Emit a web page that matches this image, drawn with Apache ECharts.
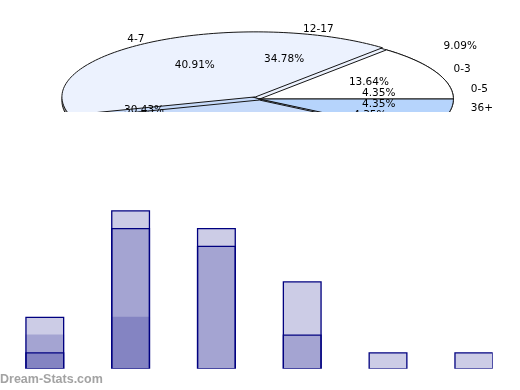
<!DOCTYPE html>
<html><head><meta charset="utf-8">
<script src="https://cdn.jsdelivr.net/npm/echarts@6/dist/echarts.min.js"></script>
<style>html,body{margin:0;padding:0;background:#fff}#c{width:520px;height:390px}</style>
</head><body><div id="c"></div>
<script>
// ---- data ----
const pieANames = ['0-3', '4-7', '8-11', '12-17'];
const pieAValues = [3, 9, 8, 2];
const pieBNames = ['0-5', '12-17', '6-11', '18-24', '25-35', '36+'];
const pieBValues = [1, 8, 7, 5, 1, 1];
const barCategories = ['0-3', '4-7', '8-11', '12-17', '18-35', '36+'];
const barSeriesA = [3, 9, 8, 2, 0, 0];
const barSeriesB = [1, 8, 7, 5, 1, 1];
const barSeriesC = [2, 3, 0, 0, 0, 0];

// ---- style / layout ----
const palette = ['#ffffff', '#ecf2fe', '#c6dafa', '#b6d4fc', '#a9c9f4', '#d4d4d4'];
const explodeA = [0, 0.039, 0.016, 0];
const depth = 0.0615;
const pctR = 0.62, nameR = 1.1;
const pctOverrideA = {3: [1.035, 0.815]};
const labelFont = '10.5px "DejaVu Sans"';

function slices(values, explode, colorOffset) {
  const tot = values.reduce((a, b) => a + b, 0);
  let acc = 0;
  return values.map((v, i) => {
    const s = acc / tot * 360; acc += v;
    const e = acc / tot * 360;
    return {s, e, ci: i + colorOffset, explode: explode ? explode[i] : 0, dy: 0, v, tot};
  });
}
const sA = slices(pieAValues, explodeA, 0);
const sB = slices(pieBValues, null, 0);
const walls = sA.filter(o => Math.cos((o.s + o.e) / 360 * Math.PI) < 0)
  .map(o => Object.assign({}, o, {dy: -depth, wall: true}));
const sliceItems = walls.concat(sB).concat(sA);

function renderSlice(params, api) {
  const o = sliceItems[params.dataIndex];
  const mid = (o.s + o.e) / 2 * Math.PI / 180;
  const cx = o.explode * Math.cos(mid), cy = o.explode * Math.sin(mid) + o.dy;
  const pts = [api.coord([cx, cy])];
  const n = Math.max(2, Math.ceil((o.e - o.s) / 1.5));
  for (let k = 0; k <= n; k++) {
    const t = (o.s + (o.e - o.s) * k / n) * Math.PI / 180;
    pts.push(api.coord([cx + Math.cos(t), cy + Math.sin(t)]));
  }
  return {type: 'polygon', shape: {points: pts},
    style: {fill: o.wall ? '#8e8e8e' : palette[o.ci], stroke: '#161616', lineWidth: 1}};
}

const labelItems = [];
function addLabels(sl, names, override) {
  sl.forEach((o, i) => {
    const mid = (o.s + o.e) / 2 * Math.PI / 180;
    const c = Math.cos(mid), s = Math.sin(mid);
    const pct = (o.v / o.tot * 100).toFixed(2) + '%';
    const p = override && override[i] ? override[i] : [pctR * c, pctR * s];
    labelItems.push({x: p[0], y: p[1], text: pct, align: 'center'});
    labelItems.push({x: nameR * c, y: nameR * s, text: names[i], align: c >= 0 ? 'left' : 'right'});
  });
}
addLabels(sA, pieANames, pctOverrideA);
addLabels(sB, pieBNames, null);

function renderLabel(params, api) {
  const o = labelItems[params.dataIndex];
  const p = api.coord([o.x, o.y]);
  return {type: 'text', x: p[0], y: p[1],
    style: {text: o.text, fill: '#000', font: labelFont, align: o.align, verticalAlign: 'middle'}};
}

const barFill = 'rgba(0,0,128,0.2)';
function barData(vals) { return vals.map((v, i) => [i, v]); }
const border = {borderColor: '#000080', borderWidth: 1.3};

const chart = echarts.init(document.getElementById('c'), null, {renderer: 'canvas'});
chart.setOption({
  animation: false,
  grid: [
    {left: 27.26, top: 21, width: 464.88, height: 91},
    {left: 1.9, top: 192.5, width: 490.8, height: 176.5}
  ],
  xAxis: [
    {gridIndex: 0, type: 'value', min: -1.2, max: 1.2, show: false},
    {gridIndex: 1, type: 'value', min: -0.5, max: 5.22, show: false}
  ],
  yAxis: [
    {gridIndex: 0, type: 'value', min: -0.2, max: 1.2, show: false},
    {gridIndex: 1, type: 'value', min: 0.0563, max: 10, show: false}
  ],
  series: [
    {type: 'custom', xAxisIndex: 0, yAxisIndex: 0, clip: true, renderItem: renderSlice,
      data: sliceItems.map(() => [0, 0]), z: 2, silent: true},
    {type: 'custom', xAxisIndex: 0, yAxisIndex: 0, clip: true, renderItem: renderLabel,
      data: labelItems.map(o => [o.x, o.y]), z: 5, silent: true},
    {type: 'bar', name: 'C', xAxisIndex: 1, yAxisIndex: 1, barWidth: 39, barGap: '-100%',
      data: barData(barSeriesC), itemStyle: {color: barFill, borderWidth: 0}, silent: true},
    {type: 'bar', name: 'B', xAxisIndex: 1, yAxisIndex: 1, barWidth: 39, barGap: '-100%',
      data: barData(barSeriesB), itemStyle: Object.assign({color: barFill}, border), silent: true},
    {type: 'bar', name: 'A', xAxisIndex: 1, yAxisIndex: 1, barWidth: 39, barGap: '-100%',
      data: barData(barSeriesA), itemStyle: Object.assign({color: barFill}, border), silent: true}
  ],
  graphic: [
    {type: 'rect', z: 100, shape: {x: 0, y: 368.7, width: 520, height: 4}, style: {fill: '#fff'}},
    {type: 'rect', z: 100, shape: {x: 492.7, y: 180, width: 30, height: 195}, style: {fill: '#fff'}},
    {type: 'text', z: 101, left: 0, top: 373.5,
      style: {text: 'Dream-Stats.com', fill: '#a3a3a3', font: 'bold 12.5px "Liberation Sans"'}}
  ]
});
</script></body></html>
